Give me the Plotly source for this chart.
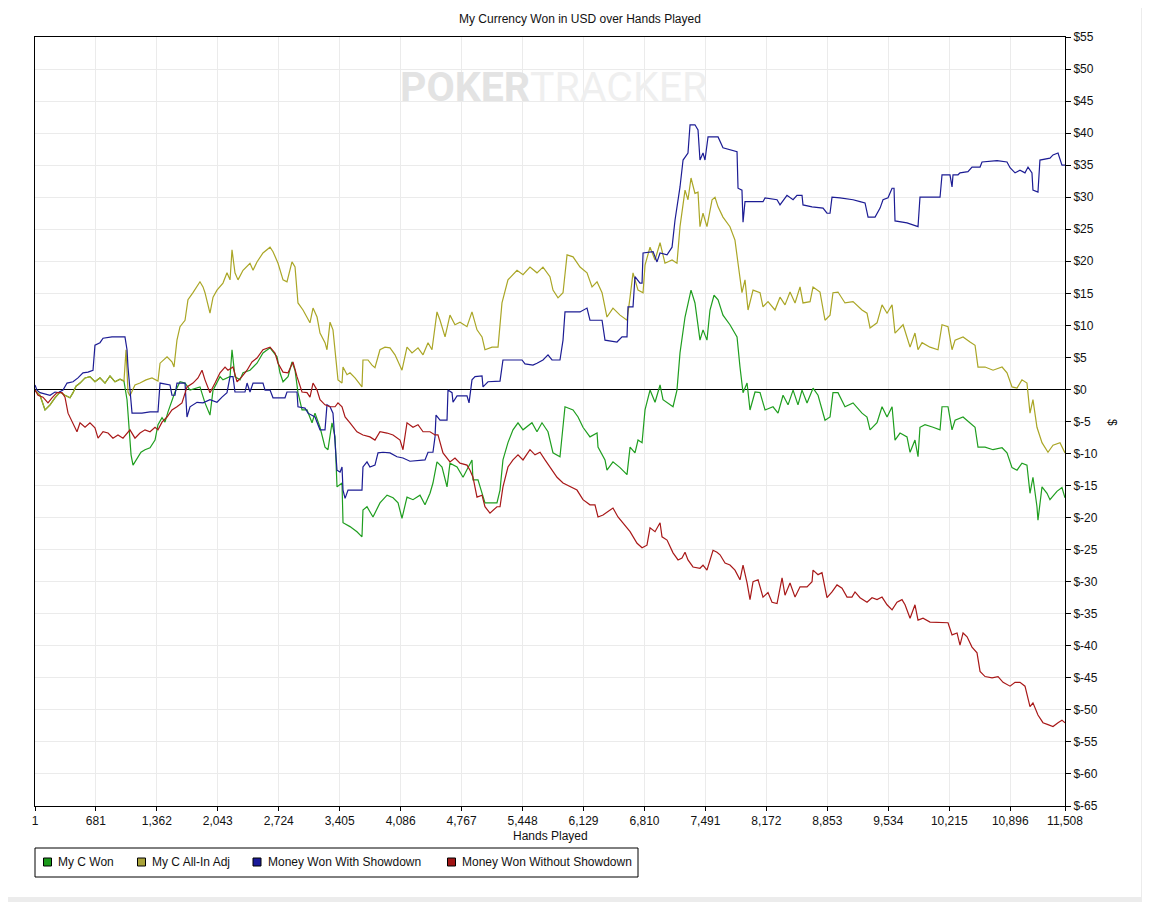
import plotly.graph_objects as go

# values: (hand number, USD)
c_won = [
    (1, -0.1), (57, -0.9), (113, -3.2), (169, -2.4), (224, -1.3), (280, -0.4), (336, -0.9), (392, -1.3),
    (426, -0.5), (459, 0.5), (504, 1.0), (560, 1.8), (615, 2.0), (671, 1.2), (727, 1.8), (783, 1.0),
    (839, 2.1), (895, 1.2), (951, 1.6), (995, 1.3), (1029, -1.6), (1051, -6.3), (1074, -10.2), (1096, -11.8),
    (1141, -10.7), (1185, -9.8), (1230, -9.4), (1286, -9.1), (1342, -7.9), (1375, -5.5), (1420, -4.4), (1453, -5.1),
    (1487, -3.5), (1531, -1.6), (1565, -0.4), (1621, 1.2), (1677, 1.0), (1733, -0.1), (1789, 0.2), (1844, 0.4),
    (1900, -2.1), (1956, -4.0), (1990, -0.1), (2068, 2.0), (2101, 1.5), (2180, 2.0), (2202, 6.2), (2235, 2.0),
    (2291, 1.5), (2325, 2.6), (2403, 3.0), (2481, 4.1), (2548, 5.7), (2627, 6.5), (2705, 5.1), (2738, 2.6),
    (2772, 1.2), (2828, 2.0), (2872, 4.3), (2906, 3.0), (2939, -0.5), (2984, -3.2), (3040, -3.2), (3096, -5.2),
    (3129, -3.7), (3185, -5.9), (3241, -9.0), (3274, -9.4), (3319, -5.2), (3353, -7.4), (3375, -15.2), (3431, -14.6),
    (3442, -20.8), (3520, -21.4), (3598, -22.2), (3654, -23.0), (3665, -18.8), (3710, -18.3), (3777, -19.9), (3855, -17.7),
    (3934, -16.5), (4001, -16.9), (4057, -17.7), (4101, -20.1), (4157, -16.8), (4224, -17.2), (4302, -16.5), (4358, -18.0),
    (4414, -16.2), (4447, -14.6), (4492, -11.3), (4548, -12.1), (4604, -15.2), (4637, -11.5), (4716, -12.1), (4783, -13.7),
    (4883, -11.0), (4894, -14.1), (4950, -14.1), (4995, -16.2), (5028, -17.7), (5084, -17.7), (5162, -17.7), (5196, -15.7),
    (5229, -11.0), (5285, -8.3), (5341, -6.3), (5397, -5.2), (5453, -6.3), (5553, -5.2), (5609, -6.6), (5665, -5.2),
    (5732, -6.6), (5788, -9.9), (5866, -10.5), (5922, -2.7), (6012, -3.2), (6068, -4.3), (6123, -5.9), (6201, -7.4),
    (6280, -6.8), (6291, -9.0), (6369, -11.0), (6391, -12.6), (6458, -11.3), (6537, -12.2), (6615, -13.3), (6649, -9.0),
    (6704, -9.9), (6738, -7.9), (6783, -8.3), (6816, -3.2), (6872, -0.1), (6928, -2.0), (6984, 0.7), (7017, -1.6),
    (7095, -2.4), (7129, -2.7), (7173, -0.1), (7207, 5.7), (7263, 11.3), (7330, 15.5), (7374, 13.5), (7430, 7.7),
    (7464, 9.3), (7508, 7.7), (7542, 12.4), (7587, 14.7), (7632, 14.0), (7687, 11.6), (7765, 10.1), (7844, 8.2),
    (7877, 3.5), (7911, -0.5), (7956, 1.0), (7989, -3.2), (8045, -0.4), (8101, -0.5), (8157, -3.2), (8246, -2.7),
    (8302, -3.7), (8358, -0.9), (8414, -2.4), (8470, -0.1), (8525, -2.4), (8570, -0.1), (8626, -2.1), (8693, 0.2),
    (8749, -0.9), (8827, -4.8), (8883, -4.3), (8916, -0.5), (8972, -0.5), (9050, -2.7), (9140, -2.1), (9240, -3.7),
    (9296, -4.3), (9330, -6.3), (9408, -5.2), (9464, -2.7), (9520, -4.3), (9576, -2.7), (9609, -7.9), (9665, -6.8),
    (9743, -7.4), (9777, -9.8), (9832, -7.9), (9866, -10.5), (9888, -5.9), (9944, -5.5), (10034, -5.9), (10112, -6.3),
    (10134, -2.7), (10201, -2.7), (10246, -6.3), (10280, -4.8), (10369, -4.3), (10447, -5.2), (10503, -5.9), (10536, -9.0),
    (10615, -9.0), (10704, -9.4), (10805, -9.1), (10860, -9.9), (10916, -12.2), (10972, -12.6), (11027, -11.5), (11083, -11.8),
    (11117, -16.2), (11150, -13.7), (11195, -18.3), (11206, -20.4), (11251, -15.2), (11307, -16.2), (11340, -17.2), (11418, -15.9),
    (11474, -15.3), (11508, -16.9),
]

c_allin_adj = [
    (1, -0.1), (57, -0.9), (113, -3.2), (169, -2.4), (224, -1.3), (280, -0.4), (336, -0.9), (392, -1.3),
    (426, -0.5), (459, 0.5), (504, 1.0), (560, 1.8), (615, 2.0), (671, 1.2), (727, 1.8), (783, 1.0),
    (839, 2.1), (895, 1.2), (951, 1.6), (995, 1.3), (1018, 6.2), (1040, -0.4), (1062, -1.0), (1118, 0.7),
    (1174, 1.0), (1241, 1.5), (1308, 1.8), (1375, 1.3), (1398, 4.1), (1476, 5.1), (1531, 4.3), (1554, 3.5),
    (1587, 7.7), (1621, 9.8), (1677, 10.8), (1710, 14.0), (1766, 15.1), (1844, 16.8), (1878, 16.0), (1900, 15.1),
    (1956, 11.9), (1990, 14.4), (2034, 15.5), (2101, 16.6), (2146, 18.2), (2180, 17.1), (2202, 21.8), (2235, 18.2),
    (2269, 17.1), (2325, 18.6), (2403, 19.7), (2437, 18.6), (2481, 19.9), (2548, 21.3), (2627, 22.2), (2660, 21.5),
    (2716, 19.7), (2772, 17.1), (2816, 16.8), (2872, 19.9), (2906, 19.1), (2939, 13.5), (2995, 12.4), (3073, 10.4),
    (3107, 12.7), (3152, 11.3), (3185, 8.8), (3241, 7.3), (3263, 6.2), (3297, 10.5), (3330, 9.3), (3375, 2.6),
    (3386, 1.5), (3431, 1.0), (3442, 3.5), (3487, 2.3), (3520, 2.6), (3576, 1.8), (3654, 0.4), (3665, 4.6),
    (3721, 4.6), (3766, 3.8), (3799, 3.4), (3855, 6.2), (3911, 6.6), (3967, 6.5), (4023, 5.4), (4101, 3.0),
    (4157, 6.6), (4213, 5.7), (4280, 6.5), (4336, 5.4), (4392, 7.3), (4436, 6.2), (4492, 12.1), (4526, 10.8),
    (4582, 8.2), (4637, 11.6), (4693, 10.1), (4749, 10.5), (4827, 9.8), (4883, 12.1), (4939, 9.3), (4995, 8.2),
    (5028, 6.2), (5107, 6.6), (5174, 6.6), (5218, 13.5), (5285, 17.1), (5386, 18.6), (5453, 17.9), (5531, 19.1),
    (5609, 18.2), (5676, 19.1), (5754, 17.6), (5788, 15.5), (5844, 14.3), (5900, 15.1), (5945, 21.0), (6012, 20.7),
    (6090, 19.1), (6168, 18.2), (6224, 16.0), (6280, 16.8), (6336, 15.1), (6391, 11.3), (6458, 12.7), (6537, 11.6),
    (6615, 10.8), (6649, 14.4), (6682, 18.2), (6738, 15.5), (6794, 15.1), (6816, 19.4), (6872, 22.2), (6928, 20.2),
    (6984, 22.9), (7039, 19.7), (7118, 20.2), (7173, 19.7), (7207, 25.4), (7263, 31.1), (7296, 29.6), (7330, 33.0),
    (7374, 30.6), (7408, 30.8), (7430, 25.4), (7464, 27.5), (7508, 25.4), (7565, 29.6), (7598, 30.0), (7632, 28.5),
    (7687, 26.9), (7765, 25.4), (7821, 23.3), (7855, 19.7), (7899, 15.1), (7933, 17.1), (7967, 12.4), (8023, 15.5),
    (8101, 15.1), (8134, 12.9), (8190, 13.7), (8268, 12.4), (8324, 14.4), (8380, 13.2), (8436, 15.2), (8492, 13.5),
    (8548, 16.0), (8581, 13.5), (8660, 13.7), (8693, 16.0), (8771, 15.2), (8827, 10.8), (8883, 11.6), (8916, 15.1),
    (8972, 15.2), (9050, 13.5), (9140, 13.7), (9240, 12.4), (9296, 11.9), (9330, 9.6), (9408, 10.4), (9464, 13.2),
    (9520, 11.9), (9576, 13.2), (9609, 8.8), (9699, 10.1), (9777, 6.6), (9832, 8.8), (9866, 6.2), (9911, 7.3),
    (10000, 6.6), (10089, 6.2), (10134, 10.1), (10201, 9.8), (10246, 6.2), (10280, 7.7), (10369, 8.2), (10447, 7.4),
    (10503, 6.9), (10536, 3.5), (10615, 3.5), (10704, 3.0), (10805, 3.5), (10860, 2.6), (10916, 0.4), (10972, 0.2),
    (11027, 1.5), (11083, 1.0), (11117, -3.7), (11150, -1.6), (11195, -5.9), (11251, -8.3), (11318, -9.8), (11374, -8.7),
    (11452, -8.3), (11508, -9.9),
]

with_showdown = [
    (1, 0.7), (23, -0.1), (57, -0.5), (169, -0.9), (224, -0.4), (258, -0.5), (314, -0.1), (359, 1.0),
    (426, 1.2), (481, 1.8), (537, 2.6), (593, 2.7), (649, 3.0), (671, 6.9), (727, 7.3), (761, 8.0),
    (861, 8.2), (1006, 8.2), (1029, 6.2), (1040, 3.5), (1085, -3.7), (1196, -3.7), (1286, -3.5), (1375, -3.5),
    (1398, 1.0), (1509, 0.7), (1531, -0.9), (1565, -0.9), (1587, 1.0), (1677, 1.0), (1699, -4.3), (1733, -2.7),
    (1811, -2.0), (1878, -2.1), (1956, -1.6), (2034, -2.0), (2090, -1.2), (2146, -0.5), (2180, 2.0), (2213, 2.0),
    (2235, -0.4), (2347, -0.4), (2370, 1.0), (2403, -0.4), (2437, 1.0), (2548, 1.0), (2571, -0.1), (2627, -0.1),
    (2660, -1.3), (2794, -1.3), (2816, -0.4), (2928, -0.4), (2939, -2.7), (3017, -2.9), (3051, -3.7), (3129, -4.3),
    (3185, -6.3), (3241, -6.3), (3263, -2.4), (3297, -2.7), (3330, -3.7), (3375, -12.6), (3409, -12.9), (3431, -12.1),
    (3442, -15.7), (3465, -17.0), (3498, -15.7), (3654, -15.7), (3665, -12.1), (3710, -11.3), (3743, -12.1), (3799, -11.8),
    (3833, -9.9), (3889, -9.8), (3967, -9.9), (4045, -10.5), (4112, -10.7), (4190, -11.2), (4358, -11.0), (4392, -9.8),
    (4447, -9.8), (4470, -7.4), (4481, -4.0), (4526, -4.8), (4604, -4.8), (4615, -0.1), (4660, -0.5), (4671, -2.0),
    (4716, -1.0), (4827, -1.0), (4850, -2.1), (4883, 1.5), (4917, 2.0), (4995, 2.1), (5006, 0.4), (5062, 1.2),
    (5196, 1.3), (5229, 4.6), (5308, 4.6), (5442, 4.6), (5475, 4.0), (5564, 3.8), (5609, 4.1), (5676, 4.6),
    (5732, 5.4), (5777, 4.6), (5866, 4.6), (5900, 7.7), (5922, 12.1), (6090, 12.1), (6168, 12.7), (6201, 10.8),
    (6336, 10.8), (6369, 7.7), (6503, 7.4), (6559, 8.2), (6615, 8.2), (6626, 12.9), (6682, 12.9), (6704, 17.6),
    (6760, 16.6), (6783, 16.6), (6794, 21.3), (6906, 21.5), (6950, 19.9), (6984, 21.3), (7062, 21.0), (7118, 22.2),
    (7151, 26.4), (7207, 31.6), (7241, 35.8), (7296, 36.9), (7319, 41.3), (7374, 41.3), (7408, 40.5), (7430, 35.8),
    (7464, 36.9), (7486, 35.8), (7520, 39.4), (7632, 39.4), (7687, 37.7), (7765, 37.4), (7844, 37.1), (7855, 31.4),
    (7899, 31.1), (7911, 26.1), (7933, 29.3), (8134, 29.3), (8157, 29.9), (8291, 29.6), (8324, 28.8), (8402, 30.3),
    (8470, 29.6), (8514, 30.3), (8570, 30.3), (8581, 28.8), (8682, 28.5), (8805, 28.3), (8849, 27.5), (8883, 27.5),
    (8905, 30.0), (8995, 29.9), (9140, 29.6), (9218, 29.3), (9274, 29.1), (9308, 26.9), (9386, 26.9), (9442, 28.3),
    (9475, 29.6), (9531, 29.9), (9576, 31.4), (9598, 31.4), (9609, 26.3), (9743, 26.0), (9832, 25.5), (9866, 25.4),
    (9888, 30.0), (10112, 30.0), (10134, 33.5), (10223, 33.5), (10246, 31.6), (10257, 33.5), (10313, 33.5), (10335, 33.8),
    (10424, 34.0), (10469, 34.7), (10559, 34.7), (10581, 35.5), (10749, 35.7), (10860, 35.5), (10894, 34.6), (10950, 33.8),
    (11005, 34.2), (11061, 33.8), (11095, 34.7), (11139, 33.8), (11150, 31.1), (11206, 30.8), (11228, 35.8), (11340, 36.1),
    (11374, 36.6), (11430, 36.9), (11474, 35.0), (11508, 35.0),
]

without_showdown = [
    (1, -0.1), (35, -0.9), (90, -1.2), (146, -2.1), (191, -1.3), (247, -0.5), (303, -0.5), (336, -1.2),
    (370, -3.7), (414, -5.1), (470, -6.6), (504, -5.2), (560, -5.9), (615, -5.2), (671, -6.0), (705, -7.6),
    (761, -6.6), (817, -6.8), (872, -7.6), (928, -7.1), (984, -7.6), (1062, -6.3), (1118, -7.6), (1174, -6.8),
    (1230, -6.3), (1286, -6.6), (1342, -5.9), (1375, -6.3), (1420, -5.1), (1476, -4.3), (1531, -3.2), (1587, -2.7),
    (1643, -2.1), (1699, 0.4), (1766, 1.0), (1822, 1.8), (1867, 3.0), (1900, 1.5), (1956, -0.5), (2012, 1.0),
    (2068, 2.6), (2124, 3.5), (2157, 3.0), (2213, 3.5), (2258, 1.2), (2313, 2.0), (2370, 3.0), (2425, 4.3),
    (2481, 4.9), (2548, 6.2), (2627, 6.6), (2682, 5.7), (2716, 4.1), (2772, 2.7), (2828, 2.6), (2883, 4.3),
    (2928, 2.0), (2984, -0.4), (3040, -0.5), (3073, -1.2), (3107, 1.0), (3152, -0.1), (3185, -1.6), (3241, -2.4),
    (3297, -2.7), (3353, -2.7), (3386, -2.1), (3431, -2.7), (3465, -4.3), (3520, -5.2), (3598, -6.6), (3665, -7.1),
    (3743, -7.4), (3799, -7.9), (3855, -6.6), (3934, -6.8), (4001, -7.1), (4079, -7.9), (4112, -9.4), (4157, -5.2),
    (4224, -5.9), (4280, -5.5), (4336, -6.6), (4414, -6.6), (4470, -7.1), (4503, -7.1), (4559, -9.9), (4637, -11.3),
    (4693, -10.7), (4749, -11.5), (4827, -11.8), (4861, -12.6), (4894, -13.7), (4939, -16.8), (4995, -16.5), (5028, -18.3),
    (5084, -19.3), (5162, -18.3), (5196, -18.3), (5229, -15.2), (5285, -12.1), (5341, -11.0), (5397, -10.2), (5453, -11.0),
    (5531, -9.4), (5587, -10.2), (5643, -9.8), (5699, -11.0), (5754, -12.1), (5833, -13.7), (5900, -14.6), (5978, -15.2),
    (6056, -15.7), (6123, -17.2), (6201, -18.0), (6257, -18.0), (6291, -19.9), (6347, -19.6), (6403, -19.1), (6458, -18.5),
    (6514, -19.9), (6570, -20.8), (6649, -22.2), (6727, -24.0), (6783, -24.7), (6838, -24.3), (6872, -21.6), (6928, -22.2),
    (6984, -20.8), (7006, -23.0), (7062, -23.5), (7129, -25.5), (7185, -26.6), (7229, -26.3), (7263, -25.4), (7296, -26.6),
    (7352, -27.7), (7430, -27.9), (7464, -27.4), (7508, -28.2), (7542, -26.6), (7576, -25.1), (7620, -25.4), (7654, -25.8),
    (7710, -27.1), (7765, -27.4), (7821, -28.2), (7877, -29.7), (7911, -27.4), (7956, -30.2), (7989, -32.8), (8023, -30.0),
    (8079, -29.7), (8134, -32.4), (8190, -31.7), (8235, -33.2), (8291, -33.4), (8347, -29.4), (8380, -32.1), (8436, -30.2),
    (8492, -32.4), (8548, -30.8), (8626, -30.8), (8682, -30.0), (8693, -28.2), (8749, -28.9), (8793, -28.6), (8849, -32.5),
    (8905, -31.6), (8961, -30.5), (9017, -31.0), (9073, -32.4), (9128, -32.4), (9162, -31.6), (9218, -32.5), (9296, -33.2),
    (9352, -32.5), (9408, -32.8), (9464, -32.4), (9520, -33.6), (9576, -34.4), (9631, -33.2), (9687, -32.8), (9721, -33.6),
    (9777, -35.7), (9832, -33.6), (9866, -36.0), (9922, -35.7), (10000, -36.3), (10079, -36.3), (10146, -36.3), (10201, -36.4),
    (10246, -38.3), (10302, -38.0), (10335, -39.9), (10369, -38.0), (10414, -38.6), (10469, -40.2), (10525, -41.1), (10559, -44.0),
    (10615, -44.8), (10693, -45.0), (10760, -44.8), (10816, -45.7), (10894, -46.3), (10950, -45.7), (11005, -45.7), (11061, -46.3),
    (11117, -49.5), (11150, -48.9), (11206, -50.8), (11262, -52.0), (11318, -52.3), (11374, -52.6), (11430, -52.0), (11474, -51.6),
    (11508, -52.0),
]

series_names = ["My C Won", "My C All-In Adj", "Money Won With Showdown", "Money Won Without Showdown"]
line_colors = ["#1f9e1f", "#aaa626", "#1c1c94", "#a81818"]
legend_colors = ["#1a9a1a", "#a9a33a", "#1a1a9a", "#a01414"]

x_ticks = [1, 681, 1362, 2043, 2724, 3405, 4086, 4767, 5448, 6129, 6810, 7491, 8172, 8853, 9534, 10215, 10896, 11508]
y_ticks = [55, 50, 45, 40, 35, 30, 25, 20, 15, 10, 5, 0, -5, -10, -15, -20, -25, -30, -35, -40, -45, -50, -55, -60, -65]

FONT = "Liberation Sans, Arial, sans-serif"

# the page body adds an 8px margin, so the figure is drawn that much smaller
PAGE_OFF = 8
W, H = 1150 - PAGE_OFF, 902 - PAGE_OFF
# plot area in page pixels
PL, PR, PT, PB = 35, 1065, 37, 806


def px(x):
    return (x - PL) / (PR - PL)


def py(y):
    return (PB - y) / (PB - PT)


fig = go.Figure()

for data, name, color in zip([c_won, c_allin_adj, with_showdown, without_showdown], series_names, line_colors):
    xs, ys = zip(*data)
    fig.add_trace(go.Scatter(
        x=xs, y=ys, mode="lines", name=name,
        line=dict(color=color, width=1.2),
        showlegend=False,
    ))


def label(text, x, y, **kw):
    d = dict(text=text, xref="paper", yref="paper", x=px(x), y=py(y), showarrow=False,
             xanchor="center", yanchor="middle", font=dict(size=12, color="#111"))
    d.update(kw)
    return d


annotations = [
    label("My Currency Won in USD over Hands Played", 580, 19),
    label("Hands Played", 550, 836),
    label("$", 1112, 422, textangle=90),
    label("<b><span style='color:#e3e3e3'>POKER</span></b><span style='color:#efefef'>TRACKER</span>",
          553, 87, font=dict(size=41, family="Roboto, Liberation Sans, sans-serif")),
]

shapes = [
    # legend frame
    dict(type="rect", xref="paper", yref="paper", x0=px(35), x1=px(638), y0=py(877), y1=py(848),
         line=dict(color="black", width=1), fillcolor="white"),
    # window edge strips
    dict(type="rect", xref="paper", yref="paper", x0=px(1141), x1=px(1160), y0=py(910), y1=py(-10),
         line=dict(width=0), fillcolor="#ececec"),
    dict(type="rect", xref="paper", yref="paper", x0=px(-10), x1=px(1141), y0=py(910), y1=py(897),
         line=dict(width=0), fillcolor="#ececec"),
]

square_x = [47.5, 141.5, 257, 451.5]
text_x = [56, 150, 266, 460]
for name, color, sx, tx in zip(series_names, legend_colors, square_x, text_x):
    shapes.append(dict(type="rect", xref="paper", yref="paper",
                       x0=px(sx - 4), x1=px(sx + 4), y0=py(866), y1=py(858),
                       line=dict(color="black", width=1), fillcolor=color))
    annotations.append(label(name, tx, 862, xanchor="left"))

fig.update_layout(
    width=W, height=H,
    margin=dict(l=PL - PAGE_OFF, r=W + PAGE_OFF - PR, t=PT - PAGE_OFF, b=H + PAGE_OFF - PB),
    paper_bgcolor="white", plot_bgcolor="white",
    font=dict(family=FONT, size=12, color="#111"),
    showlegend=False,
    annotations=annotations,
    shapes=shapes,
    xaxis=dict(
        range=[1, 11508], tickvals=x_ticks, ticktext=[f"{v:,}" for v in x_ticks],
        showgrid=True, gridcolor="#ebebeb", gridwidth=1,
        showline=True, linecolor="black", linewidth=1, mirror=True,
        ticks="outside", ticklen=4, tickcolor="black",
        zeroline=False, tickfont=dict(size=12, color="#111"),
    ),
    yaxis=dict(
        range=[-65, 55], side="right", tickvals=y_ticks, ticktext=[f"${v}" for v in y_ticks],
        showgrid=True, gridcolor="#ebebeb", gridwidth=1,
        showline=True, linecolor="black", linewidth=1, mirror=True,
        ticks="outside", ticklen=5, tickcolor="black",
        zeroline=True, zerolinecolor="black", zerolinewidth=1,
        tickfont=dict(size=12, color="#111"),
    ),
)

fig.write_html("out.html")
